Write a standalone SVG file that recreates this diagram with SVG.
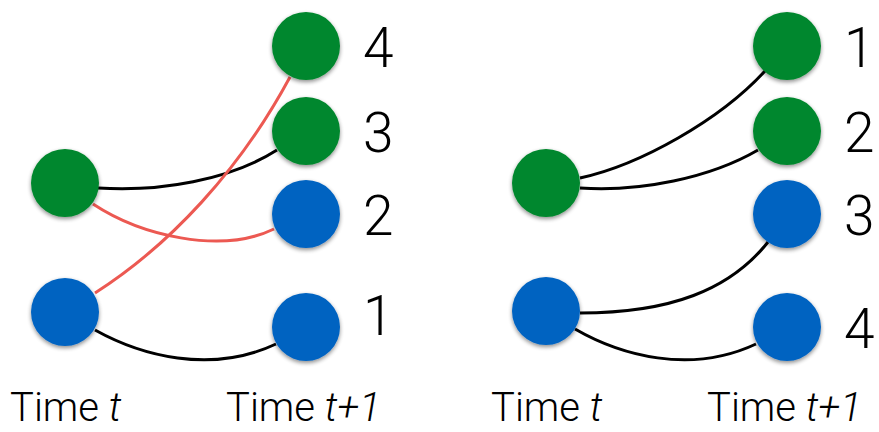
<svg xmlns="http://www.w3.org/2000/svg" width="879" height="432" viewBox="0 0 879 432">
<defs>
<filter id="sh" x="-30%" y="-30%" width="160%" height="170%">
<feGaussianBlur in="SourceAlpha" stdDeviation="2"/>
<feOffset dy="2" result="b"/>
<feComponentTransfer><feFuncA type="linear" slope="0.45"/></feComponentTransfer>
<feMerge><feMergeNode/><feMergeNode in="SourceGraphic"/></feMerge>
</filter>
</defs>
<style>
.g{fill:#03872D;filter:url(#sh)}
.b{fill:#0563C1;filter:url(#sh)}
.e{fill:none;stroke:#000;stroke-width:3}
.r{fill:none;stroke:#EC5952;stroke-width:3}
.num{font-family:Roboto,"Liberation Sans",Arial,sans-serif;font-weight:300;font-size:55px;fill:#000}
.lab{font-family:Roboto,"Liberation Sans",Arial,sans-serif;font-weight:300;font-size:40px;fill:#000}
</style>
<rect width="879" height="432" fill="#fff"/>
<g id="connectors">
<path class="e" d="M98,188 C160,192 230,180 277,150"/>
<path class="r" d="M93,204 C140,235 220,255 274,229"/>
<path class="r" d="M95,293 C170,245 240,170 290,77"/>
<path class="e" d="M95,330 C140,355 210,375 276,344"/>
<path class="e" d="M580,178 C640,165 720,120 765,71"/>
<path class="e" d="M580,188 C640,192 710,178 758,150"/>
<path class="e" d="M580,313 C670,313 730,290 768,242"/>
<path class="e" d="M575,329 C620,355 690,375 756,344"/>
</g>
<g id="L-green"><circle class="g" cx="65" cy="183" r="34"/></g>
<g id="L-blue"><circle class="b" cx="65" cy="312" r="34"/></g>
<g id="L-n4"><circle class="g" cx="306" cy="46" r="34"/><text class="num" x="363" y="67">4</text></g>
<g id="L-n3"><circle class="g" cx="306" cy="131" r="34"/><text class="num" x="363" y="152">3</text></g>
<g id="L-n2"><circle class="b" cx="306" cy="214" r="34"/><text class="num" x="363" y="235">2</text></g>
<g id="L-n1"><circle class="b" cx="306" cy="327" r="34"/><text class="num" x="363" y="335">1</text></g>
<g id="R-green"><circle class="g" cx="546" cy="183" r="34"/></g>
<g id="R-blue"><circle class="b" cx="546" cy="311" r="34"/></g>
<g id="R-n1"><circle class="g" cx="787" cy="46" r="34"/><text class="num" x="844" y="67">1</text></g>
<g id="R-n2"><circle class="g" cx="787" cy="131" r="34"/><text class="num" x="844" y="152">2</text></g>
<g id="R-n3"><circle class="b" cx="787" cy="214" r="34"/><text class="num" x="844" y="235">3</text></g>
<g id="R-n4"><circle class="b" cx="787" cy="327" r="34"/><text class="num" x="844" y="348">4</text></g>
<g id="labels">
<text class="lab" x="10" y="421">Time <tspan font-style="italic">t</tspan></text>
<text class="lab" x="226" y="421">Time <tspan font-style="italic">t+1</tspan></text>
<text class="lab" x="491" y="421">Time <tspan font-style="italic">t</tspan></text>
<text class="lab" x="707" y="421">Time <tspan font-style="italic">t+1</tspan></text>
</g>
</svg>
